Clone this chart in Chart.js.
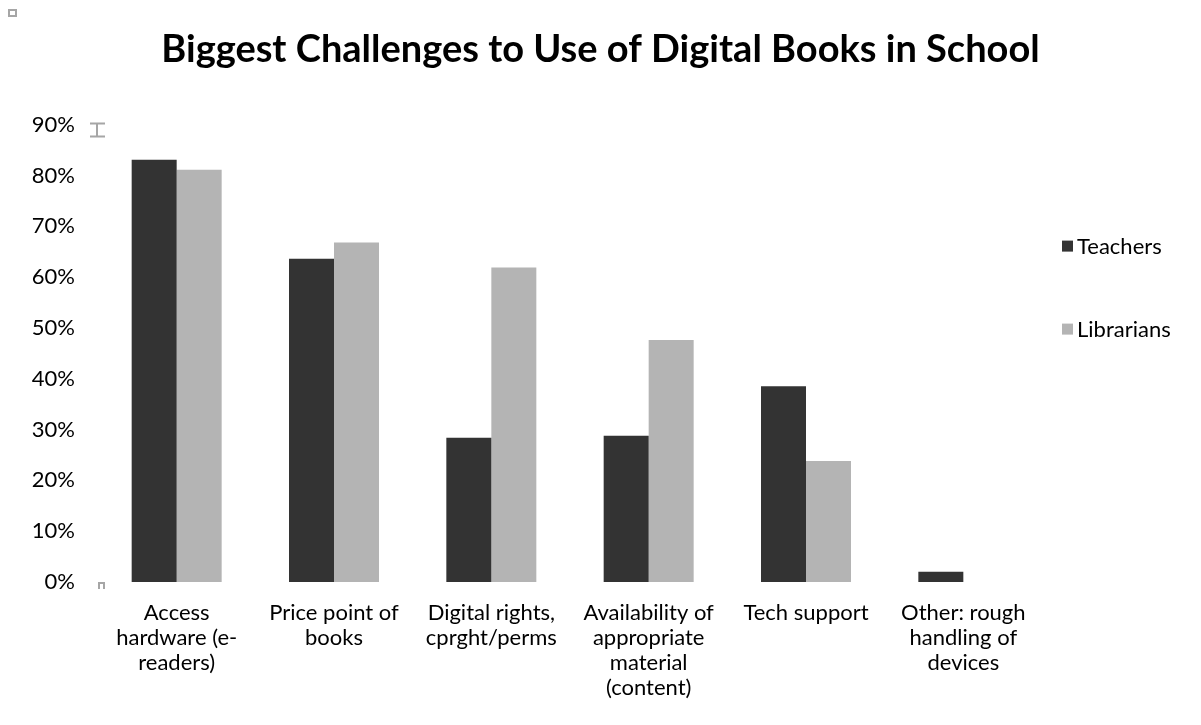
<!DOCTYPE html>
<html>
<head>
<meta charset="utf-8">
<script src="https://cdn.jsdelivr.net/npm/chart.js@4.4.0/dist/chart.umd.min.js"></script>
<style>
    html, body { margin: 0; padding: 0; background: #fff; }
    #wrap { width: 1201px; height: 725px; position: relative; }
</style>
</head>
<body>
<div id="wrap"><canvas id="challengesChart"></canvas></div>
<script>
// Chart data
const categories = [
    ["Access", "hardware (e-", "readers)"],
    ["Price point of", "books"],
    ["Digital rights,", "cprght/perms"],
    ["Availability of", "appropriate", "material", "(content)"],
    ["Tech support"],
    ["Other: rough", "handling of", "devices"]
];
const teachers = [0.831, 0.636, 0.284, 0.288, 0.385, 0.02];
const librarians = [0.811, 0.668, 0.619, 0.476, 0.238, 0];
const yTicks = [0, 0.1, 0.2, 0.3, 0.4, 0.5, 0.6, 0.7, 0.8, 0.9];

const FONT = "Lato, 'Liberation Sans', sans-serif";

// Legend drawn on the right, spaced out like the original Excel chart
const sideLegend = {
    id: 'sideLegend',
    afterDraw(chart) {
        const { ctx, chartArea } = chart;
        const x = chartArea.right + 20;
        ctx.save();
        ctx.font = "22px " + FONT;
        ctx.textBaseline = 'middle';
        chart.data.datasets.forEach((ds, i) => {
            const y = chartArea.top + 122 + i * 83;
            ctx.fillStyle = ds.backgroundColor;
            ctx.fillRect(x, y - 6, 11, 11);
            ctx.fillStyle = '#000';
            ctx.fillText(ds.label, x + 15, y);
        });

        // little selection handles left over in the screenshot
        ctx.strokeStyle = '#a6a6a6';
        ctx.lineWidth = 2;
        ctx.strokeRect(9, 10, 7, 6);
        ctx.beginPath();
        ctx.moveTo(chartArea.left - 8, chartArea.top - 1);
        ctx.lineTo(chartArea.left + 7, chartArea.top - 1);
        ctx.moveTo(chartArea.left - 1, chartArea.top - 1);
        ctx.lineTo(chartArea.left - 1, chartArea.top + 12);
        ctx.moveTo(chartArea.left - 8, chartArea.top + 12);
        ctx.lineTo(chartArea.left + 7, chartArea.top + 12);
        ctx.moveTo(chartArea.left + 1, chartArea.bottom + 7);
        ctx.lineTo(chartArea.left + 1, chartArea.bottom + 1);
        ctx.lineTo(chartArea.left + 6, chartArea.bottom + 1);
        ctx.lineTo(chartArea.left + 6, chartArea.bottom + 7);
        ctx.stroke();
        ctx.restore();
    }
};

const ctx = document.getElementById('challengesChart').getContext('2d');

new Chart(ctx, {
    type: 'bar',
    data: {
        labels: categories,
        datasets: [
            {
                label: 'Teachers',
                data: teachers,
                backgroundColor: '#333333',
                borderWidth: 0,
                barPercentage: 1,
                categoryPercentage: 0.572
            },
            {
                label: 'Librarians',
                data: librarians,
                backgroundColor: '#b4b4b4',
                borderWidth: 0,
                barPercentage: 1,
                categoryPercentage: 0.572
            }
        ]
    },
    options: {
        responsive: true,
        maintainAspectRatio: false,
        animation: false,
        layout: { padding: { left: 6, right: 6, top: 0, bottom: 0 } },
        plugins: {
            title: {
                display: true,
                text: 'Biggest Challenges to Use of Digital Books in School',
                color: '#000',
                font: { family: FONT, size: 38, weight: 'bold' },
                padding: { top: 27, bottom: 52 }
            },
            legend: { display: false },
            tooltip: { enabled: false }
        },
        scales: {
            x: {
                grid: { display: false },
                border: { display: false },
                afterFit: axis => { axis.height = 143; },
                ticks: {
                    color: '#000',
                    maxRotation: 0,
                    autoSkip: false,
                    padding: 10,
                    font: { family: FONT, size: 22, lineHeight: 1.14 }
                }
            },
            y: {
                min: 0,
                max: 0.9,
                grid: { display: false },
                border: { display: false },
                afterFit: axis => { axis.width = 92; },
                afterBuildTicks: axis => {
                    axis.ticks = yTicks.map(v => ({ value: v }));
                },
                ticks: {
                    color: '#000',
                    padding: 15,
                    font: { family: FONT, size: 22 },
                    callback: v => Math.round(v * 100) + '%'
                }
            },
            // empty right-hand box that leaves room for the legend
            legendSpace: {
                type: 'linear',
                position: 'right',
                grid: { display: false },
                border: { display: false },
                ticks: { display: false },
                afterFit: axis => { axis.width = 153; }
            }
        }
    },
    plugins: [sideLegend]
});
</script>
</body>
</html>
